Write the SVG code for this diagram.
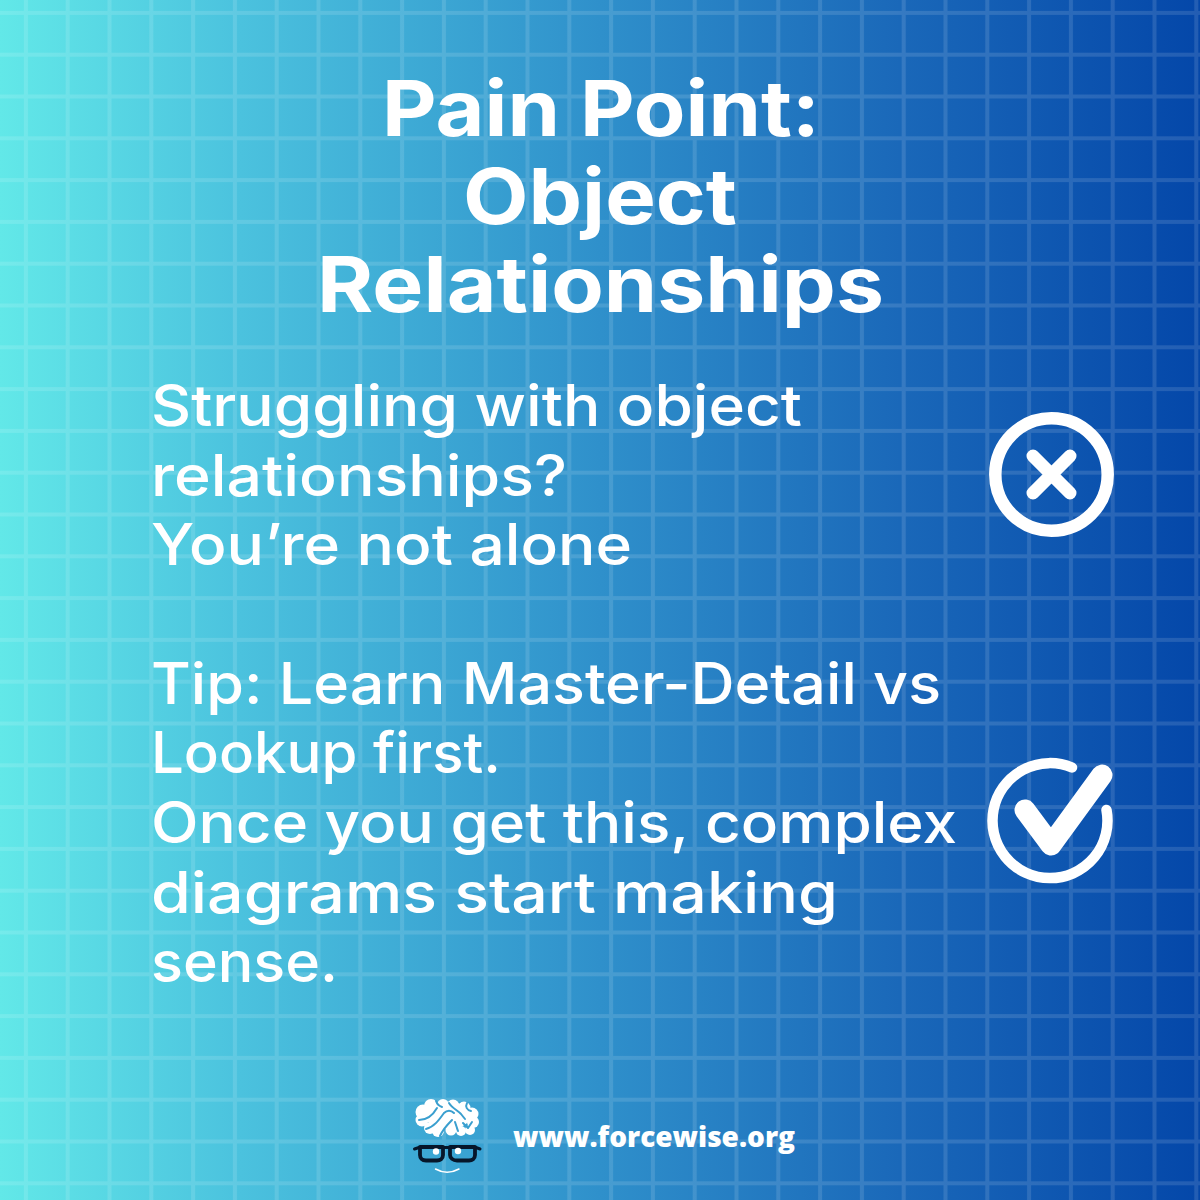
<svg xmlns="http://www.w3.org/2000/svg" width="1200" height="1200" viewBox="0 0 1200 1200">
<defs>
<linearGradient id="bg" x1="0" y1="0" x2="1" y2="0">
<stop offset="0" stop-color="#62e8e8"/><stop offset="0.2" stop-color="#4bc2de"/><stop offset="0.5" stop-color="#2f90cb"/><stop offset="0.75" stop-color="#1a68b9"/><stop offset="1" stop-color="#0447a9"/>
</linearGradient>
<pattern id="grid" x="5" y="-8" width="41.8" height="41.8" patternUnits="userSpaceOnUse">
<path d="M20.9 0V41.8M0 20.9H41.8" stroke="#fff" stroke-opacity="0.12" stroke-width="4" fill="none"/>
</pattern>
</defs>
<style>
.title{font-family:"Inter","Liberation Sans",sans-serif;font-weight:700;font-size:77px;fill:#fff}
.body{font-family:"Inter","Liberation Sans",sans-serif;font-weight:500;font-size:57px;fill:#fff}
.url{font-family:"Open Sans","Liberation Sans",sans-serif;font-weight:800;font-size:28px;fill:#fff}
.ring{fill:none;stroke:#fff;stroke-linecap:round;stroke-linejoin:round}
.fold{fill:none;stroke:#3a9fcf;stroke-width:2;stroke-linecap:round;stroke-linejoin:round}
</style>
<rect id="background" width="1200" height="1200" fill="url(#bg)"/>
<rect id="grid-lines" width="1200" height="1200" fill="url(#grid)"/>
<g id="title">
<text class="title" x="382" y="136" textLength="438" lengthAdjust="spacingAndGlyphs">Pain Point:</text>
<text class="title" x="463" y="224" textLength="274" lengthAdjust="spacingAndGlyphs">Object</text>
<text class="title" x="317" y="312" textLength="567" lengthAdjust="spacingAndGlyphs">Relationships</text>
</g>
<g id="pain-text">
<text class="body" x="151" y="426" textLength="651" lengthAdjust="spacingAndGlyphs">Struggling with object</text>
<text class="body" x="151" y="496" textLength="416" lengthAdjust="spacingAndGlyphs">relationships?</text>
<text class="body" x="151" y="565" textLength="481" lengthAdjust="spacingAndGlyphs">You’re not alone</text>
</g>
<g id="tip-text">
<text class="body" x="151" y="704" textLength="790" lengthAdjust="spacingAndGlyphs">Tip: Learn Master-Detail vs</text>
<text class="body" x="151" y="773" textLength="350" lengthAdjust="spacingAndGlyphs">Lookup first.</text>
<text class="body" x="151" y="843" textLength="806" lengthAdjust="spacingAndGlyphs">Once you get this, complex</text>
<text class="body" x="151" y="913" textLength="687" lengthAdjust="spacingAndGlyphs">diagrams start making</text>
<text class="body" x="151" y="982" textLength="187" lengthAdjust="spacingAndGlyphs">sense.</text>
</g>
<g id="cross-icon">
<circle class="ring" cx="1051.5" cy="474.5" r="56.2" stroke-width="12.5"/>
<path class="ring" d="M1033 456L1070 493M1070 456L1033 493" stroke-width="13"/>
</g>
<g id="check-icon">
<path class="ring" d="M1072 767.500A57.500 57.500 0 1 0 1106.500 810" stroke-width="10.500"/>
<path class="ring" d="M1025 810L1051 845L1102 775" stroke-width="21"/>
</g>
<g id="logo">
<g fill="#fff">
<circle cx="423" cy="1112" r="7.500"/><circle cx="422" cy="1120" r="6.500"/><circle cx="431" cy="1106" r="7"/>
<circle cx="443" cy="1105" r="6"/><circle cx="453" cy="1106" r="6.500"/><circle cx="464" cy="1108" r="6.500"/>
<circle cx="472" cy="1114" r="6.500"/><circle cx="473" cy="1122" r="6"/><circle cx="470" cy="1130" r="5"/>
<circle cx="430" cy="1128" r="6"/><circle cx="438" cy="1131" r="6"/><circle cx="451" cy="1130" r="5.500"/><circle cx="461" cy="1131" r="5"/>
<ellipse cx="448" cy="1117" rx="22" ry="12"/>
</g>
<path class="fold" d="M419 1120C428 1120 433 1115 437 1108M426 1129C434 1127 439 1120 444 1113C447 1110 451 1110 454 1113M440 1136C443 1129 447 1125 452 1120M449 1103C452 1108 457 1110 461 1114L465 1119M455 1122L458 1131M463 1123L468 1128L472 1122M436 1101C437 1104 439 1106 442 1107M467 1103C465 1107 467 1110 471 1111"/>
<g fill="none" stroke="#06162a" stroke-linejoin="round" stroke-linecap="round">
<path d="M414.500 1149L419 1147.500H476L480 1149" stroke-width="3"/>
<path d="M420 1147H443V1155C443 1159 440 1160.500 437 1160.500H426C422 1160.500 420 1158 420 1155Z" stroke-width="3.800"/>
<path d="M450 1147H475V1155C475 1159 472 1160.500 469 1160.500H457C453 1160.500 450 1158 450 1155Z" stroke-width="3.800"/>
</g>
<circle cx="436" cy="1151.500" r="3.200" fill="#fff"/>
<circle cx="458" cy="1151" r="3.200" fill="#fff"/>
<path d="M435.500 1169Q447 1175.500 459 1169" fill="none" stroke="#fff" stroke-width="1.500" stroke-linecap="round"/>
</g>
<g id="website"><text class="url" x="513" y="1147" textLength="282" lengthAdjust="spacingAndGlyphs">www.forcewise.org</text></g>
</svg>
